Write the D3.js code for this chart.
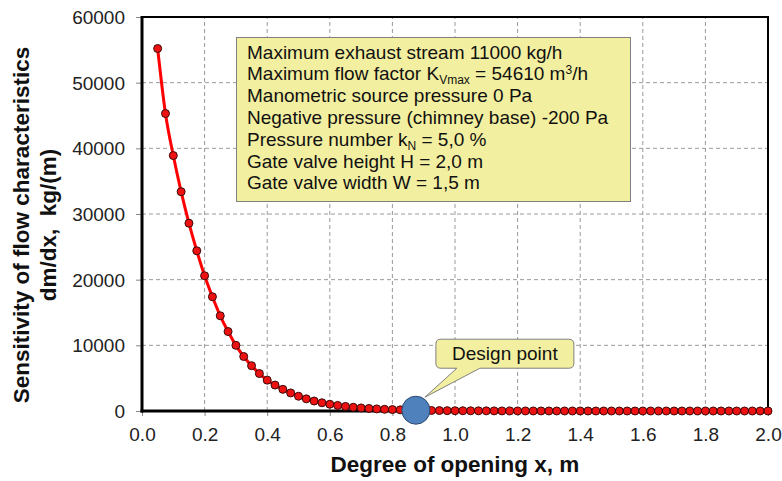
<!DOCTYPE html>
<html><head><meta charset="utf-8">
<script src="https://cdn.jsdelivr.net/npm/d3@7"></script>
<style>body{margin:0;background:#fff}svg{display:block;font-family:"Liberation Sans",Arial,sans-serif}</style>
</head><body><svg id="c" width="782" height="481"></svg>
<script>
const xValues = [0.05,0.075,0.1,0.125,0.15,0.175,0.2,0.225,0.25,0.275,0.3,0.325,0.35,0.375,0.4,0.425,0.45,0.475,0.5,0.525,0.55,0.575,0.6,0.625,0.65,0.675,0.7,0.725,0.75,0.775,0.8,0.825,0.85,0.875,0.9,0.925,0.95,0.975,1.0,1.025,1.05,1.075,1.1,1.125,1.15,1.175,1.2,1.225,1.25,1.275,1.3,1.325,1.35,1.375,1.4,1.425,1.45,1.475,1.5,1.525,1.55,1.575,1.6,1.625,1.65,1.675,1.7,1.725,1.75,1.775,1.8,1.825,1.85,1.875,1.9,1.925,1.95,1.975,2.0];
const sensitivity = [55200,45300,38900,33400,28600,24400,20600,17400,14500,12100,10000,8300,6900,5700,4700,3950,3300,2750,2250,1850,1520,1250,1030,850,700,570,470,390,320,260,215,175,145,120,100,80,66,55,45,37,30,25,21,17,14,12,10,8,7,6,5,4,3.5,3,2.5,2,1.8,1.5,1.2,1,0.9,0.8,0.7,0.6,0.5,0.4,0.35,0.3,0.25,0.2,0.18,0.15,0.12,0.1,0.09,0.08,0.07,0.06,0.05];
const xTicks = [0,0.2,0.4,0.6,0.8,1.0,1.2,1.4,1.6,1.8,2.0];
const yTicks = [0,10000,20000,30000,40000,50000,60000];
const designX = [0.875];
const designY = [120];
const designLabel = "Design point";
const xTitle = "Degree of opening x, m";
const yTitle1 = "Sensitivity of flow characteristics";
const yTitle2 = "dm/dx,  kg/(m)";
const infoLines = [
  [["Maximum exhaust stream 11000 kg/h",""]],
  [["Maximum flow factor K",""],["Vmax","sub"],[" = 54610 m",""],["3","sup"],["/h",""]],
  [["Manometric source pressure 0 Pa",""]],
  [["Negative pressure (chimney base) -200 Pa",""]],
  [["Pressure number k",""],["N","sub"],[" = 5,0 %",""]],
  [["Gate valve height H = 2,0 m",""]],
  [["Gate valve width W = 1,5 m",""]]
];

const svg = d3.select("#c");
const x = d3.scaleLinear().domain([0,2]).range([142,768]);
const y = d3.scaleLinear().domain([0,60000]).range([411,17]);

// grid
svg.append("g").selectAll("line").data(xTicks.slice(1,-1)).join("line")
  .attr("x1",d=>x(d)).attr("x2",d=>x(d)).attr("y1",y(0)).attr("y2",y(60000))
  .attr("stroke","#9a9a9a").attr("stroke-dasharray","4,3");
svg.append("g").selectAll("line").data(yTicks.slice(1,-1)).join("line")
  .attr("y1",d=>y(d)).attr("y2",d=>y(d)).attr("x1",x(0)).attr("x2",x(2))
  .attr("stroke","#9a9a9a").attr("stroke-dasharray","4,3");

// axes
const xAxis = svg.append("g").attr("transform",`translate(0,${y(0)})`)
  .call(d3.axisBottom(x).tickValues(xTicks).tickFormat(d3.format(".1f")).tickSize(5).tickPadding(12));
const yAxis = svg.append("g").attr("transform",`translate(${x(0)},0)`)
  .call(d3.axisLeft(y).tickValues(yTicks).tickFormat(d=>String(d)).tickSize(6).tickPadding(11));
[xAxis,yAxis].forEach(a=>{
  a.select(".domain").remove();
  a.selectAll(".tick line").attr("stroke","#888");
  a.selectAll(".tick text").attr("font-size",19).attr("fill","#222").attr("font-family","Liberation Sans, Arial, sans-serif");
});
yAxis.selectAll(".tick text").attr("dy","0.35em");

// frame
svg.append("rect").attr("x",x(0)).attr("y",y(60000)).attr("width",x(2)-x(0)).attr("height",y(0)-y(60000))
  .attr("fill","none").attr("stroke","#000").attr("stroke-width",2);
svg.append("line").attr("x1",x(0)).attr("x2",x(0)).attr("y1",y(60000)-1).attr("y2",y(0)+1.5).attr("stroke","#000").attr("stroke-width",3);
svg.append("line").attr("x1",x(0)-1.5).attr("x2",x(2)).attr("y1",y(0)).attr("y2",y(0)).attr("stroke","#000").attr("stroke-width",3);

// info box
const info = svg.append("g");
info.append("rect").attr("x",236.5).attr("y",37.5).attr("width",394).attr("height",164)
  .attr("fill","#f3efa0").attr("stroke","#808080").attr("stroke-width",1);
infoLines.forEach((parts,i)=>{
  const t = info.append("text").attr("x",247).attr("y",58.5+i*21.8).attr("font-size",19).attr("fill","#111");
  let shift = 0;
  parts.forEach(([s,k])=>{
    const ts = t.append("tspan").text(s);
    if(k==="sub"){ ts.attr("font-size",12).attr("dy",4); shift+=4; }
    else if(k==="sup"){ ts.attr("font-size",12).attr("dy",-6); shift-=6; }
    else if(shift){ ts.attr("dy",-shift); shift=0; }
  });
});

// series
const data = xValues.map((v,i)=>({x:v,y:sensitivity[i]}));
svg.append("path").datum(data).attr("fill","none").attr("stroke","#ff0000").attr("stroke-width",3)
  .attr("d",d3.line().x(d=>x(d.x)).y(d=>y(d.y)).curve(d3.curveMonotoneX));
svg.append("g").selectAll("circle").data(data).join("circle")
  .attr("cx",d=>x(d.x)).attr("cy",d=>y(d.y)).attr("r",4)
  .attr("fill","#ee1111").attr("stroke","#3a0a0a").attr("stroke-width",1);

// design point callout
const dx = x(designX[0]), dyp = y(designY[0]);
const bx = dx+20, by = dyp-71, bw = 138, bh = 29;
svg.append("path").attr("d",
  `M${bx+5},${by} H${bx+bw-5} Q${bx+bw},${by} ${bx+bw},${by+5} V${by+bh-5} Q${bx+bw},${by+bh} ${bx+bw-5},${by+bh} H${bx+44} L${dx+9},${dyp-13} L${bx+21},${by+bh} H${bx+5} Q${bx},${by+bh} ${bx},${by+bh-5} V${by+5} Q${bx},${by} ${bx+5},${by} Z`)
  .attr("fill","#f3efa0").attr("stroke","#808080").attr("stroke-width",1);
svg.append("text").attr("x",bx+bw/2).attr("y",by+21).attr("text-anchor","middle").attr("font-size",19).attr("fill","#111").text(designLabel);
svg.append("circle").attr("cx",dx).attr("cy",dyp).attr("r",14)
  .attr("fill","#4f81bd").attr("stroke","#2c4a70").attr("stroke-width",1);

// titles
svg.append("text").attr("x",(x(0)+x(2))/2).attr("y",472).attr("text-anchor","middle")
  .attr("font-size",22.5).attr("font-weight","bold").attr("fill","#111").text(xTitle);
const yt = svg.append("g").attr("transform","translate(0,225) rotate(-90)");
yt.append("text").attr("x",0).attr("y",29).attr("text-anchor","middle").attr("font-size",22.5).attr("font-weight","bold").attr("fill","#111").text(yTitle1);
yt.append("text").attr("x",0).attr("y",56).attr("text-anchor","middle").attr("font-size",22.5).attr("font-weight","bold").attr("fill","#111").style("white-space","pre").text(yTitle2);
</script></body></html>
